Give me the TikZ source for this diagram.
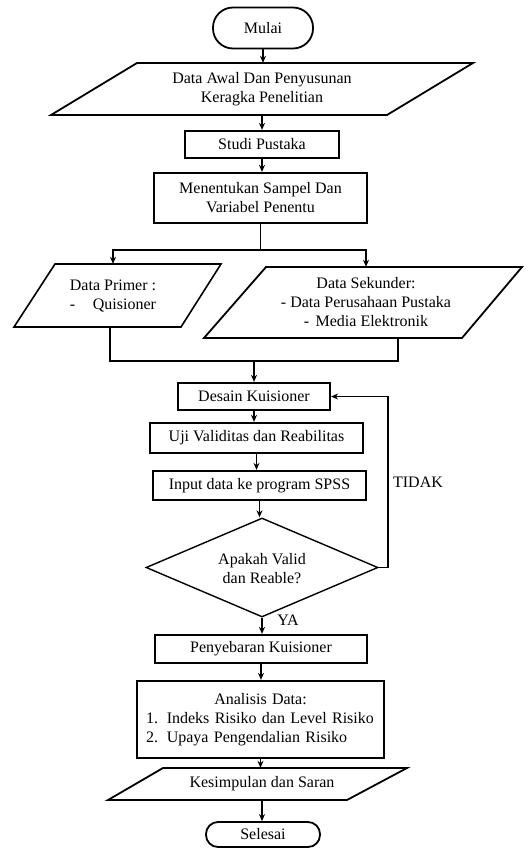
\documentclass[tikz,border=0pt]{standalone}
\usepackage{fontspec}
\setmainfont{Liberation Serif}
\usetikzlibrary{shapes.geometric,arrows.meta}
\begin{document}
\begin{tikzpicture}[x=1pt,y=-1pt,
  font=\fontsize{16}{19}\selectfont,
  every node/.style={inner sep=0pt, align=center, text=black},
  term/.style={draw, line width=1.8pt, rectangle},
  proc/.style={draw, line width=2.2pt, rectangle},
  ptext/.style={rectangle},
  para/.style={draw, line width=1.8pt, line join=miter},
  dec/.style={draw, diamond, line width=1.4pt},
  line/.style={draw, line width=1.2pt},
  arr/.style={draw, line width=1.2pt, -{Stealth[length=7pt,width=6pt]}}]
\useasboundingbox (0,0) rectangle (530,848);

% terminals
\node[term, rounded corners=20pt, minimum width=100pt, minimum height=41pt] (mulai) at (263,28) {Mulai};
\node[term, rounded corners=12pt, minimum width=114pt, minimum height=25pt] (selesai) at (263,834.5) {Selesai};

% Data Awal
\draw[para] (137,63) -- (473,63) -- (387,115) -- (51,115) -- cycle;
\node[ptext, minimum height=52pt] (awal) at (262,89) {Data Awal Dan Penyusunan\\Keragka Penelitian};

% process boxes
\node[proc, minimum width=154pt, minimum height=27pt] (studi) at (262,144.5) {Studi Pustaka};
\node[proc, minimum width=213pt, minimum height=50pt] (tentu) at (260.5,198) {Menentukan Sampel Dan\\Variabel Penentu};

% data primer / sekunder
\draw[para, line width=1.6pt] (55,264) -- (221,264) -- (181,327) -- (14,327) -- cycle;
\node[ptext, minimum height=63pt] (primer) at (113,295.5) {Data Primer :\\-\hspace{1.1em}Quisioner};
\draw[para] (266,267) -- (522,267) -- (462,338) -- (204,338) -- cycle;
\node[ptext, minimum height=71pt] (sekunder) at (366,302.5) {Data Sekunder:\\- Data Perusahaan Pustaka\\-\hspace{0.4em}Media Elektronik};

\node[proc, minimum width=152pt, minimum height=27pt] (desain) at (254,396.5) {Desain Kuisioner};
\node[proc, minimum width=213pt, minimum height=30pt] (uji) at (256.5,438) {Uji Validitas dan Reabilitas};
\node[proc, minimum width=213pt, minimum height=29pt] (input) at (259.5,485.5) {Input data ke program SPSS};
\node[dec, minimum width=232pt, minimum height=99pt, aspect=2.34] (valid) at (262,567.5) {};
\node (validtext) at (262,569) {Apakah Valid\\dan Reable?};
\node[proc, minimum width=212pt, minimum height=28pt] (sebar) at (261,649) {Penyebaran Kuisioner};
\node[proc, minimum width=247pt, minimum height=77pt, text width=229pt, align=left] (anal) at (260.5,719.5)
  {\makebox[229pt][c]{Analisis Data:}\\1.\hspace{0.55em}Indeks Risiko dan Level Risiko\\2.\hspace{0.55em}Upaya Pengendalian Risiko};

% Kesimpulan
\draw[para] (163,768) -- (407,768) -- (347,800) -- (108,800) -- cycle;
\node[ptext, minimum height=32pt] (simpul) at (262,784) {Kesimpulan dan Saran};

% labels
\node (tidak) at (418,482) {TIDAK};
\node (ya) at (288,620) {YA};

% connectors
\draw[arr] (mulai.south) -- (mulai.south |- awal.north);
\draw[arr] (awal.south) -- (awal.south |- studi.north);
\draw[arr] (studi.south) -- (studi.south |- tentu.north);
\coordinate (split) at (260.5,250);
\draw[line] (tentu.south) -- (split);
\draw[arr] (split) -| (primer.north);
\draw[arr] (split) -| (sekunder.north);
\coordinate (merge) at (254,361);
\draw[line] ([xshift=-3pt]primer.south) |- (merge);
\draw[line] ([xshift=32pt]sekunder.south) |- (merge);
\draw[arr] (merge) -- (desain.north);
\draw[arr] (desain.south) -- (desain.south |- uji.north);
\draw[arr] (uji.south) -- (uji.south |- input.north);
\draw[arr] (input.south) -- (input.south |- valid.north);
\coordinate (fb) at (388,567.5);
\draw[arr] (valid.east) -- (fb) |- (desain.east);
\draw[arr] (valid.south) -- (valid.south |- sebar.north);
\draw[arr] (sebar.south) -- (sebar.south |- anal.north);
\draw[arr] (anal.south) -- (anal.south |- simpul.north);
\draw[arr] (simpul.south) -- (simpul.south |- selesai.north);
\end{tikzpicture}
\end{document}
